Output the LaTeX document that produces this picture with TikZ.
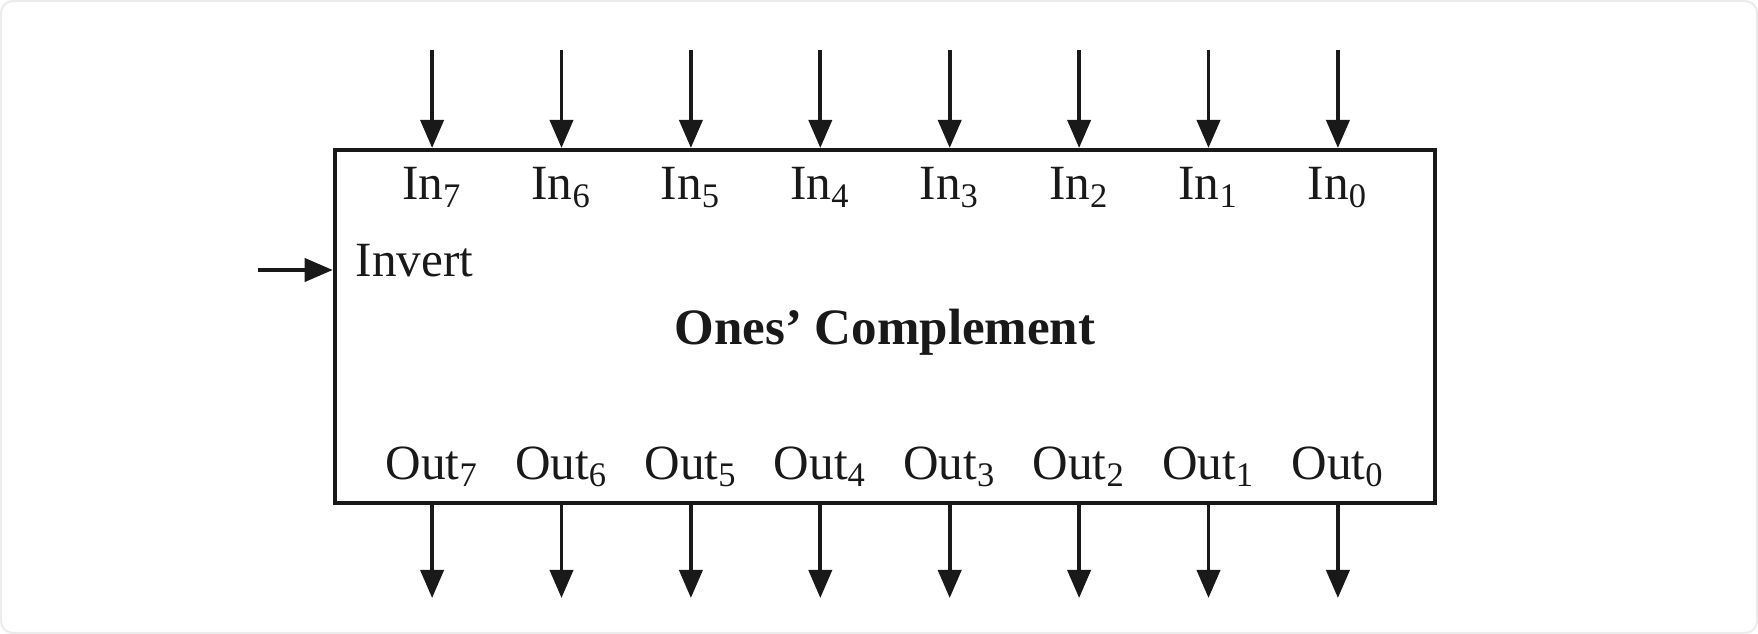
\documentclass[tikz,border=0pt]{standalone}
\usepackage{fontspec}
\setmainfont{Liberation Serif}
\usetikzlibrary{positioning, arrows.meta}

\begin{document}
\begin{tikzpicture}[x=0.01cm, y=-0.01cm,
    wire/.style={line width=1.1pt, draw=black!90, -{Triangle[length=0.28cm, width=0.23cm]}},
    pin/.style={font=\fontsize{14}{16}\selectfont, inner sep=0pt, anchor=base, text=black!90}]
    \useasboundingbox (0,0) rectangle (1758,634);
    \draw [gray!15, line width=0.6pt, rounded corners=3.4pt] (1,1) rectangle (1757,633);
    % The block
    \node (C) [draw=black!90, line width=1.1pt, minimum width=11cm, minimum height=3.53cm, inner sep=0pt] at (885,326.5) {};
    \node (title) [font=\bfseries\fontsize{14.5}{17}\selectfont, anchor=base, text=black!90] at (885,345) {Ones’ Complement};
    % Data inputs and outputs
    \foreach \i in {0,...,7} {
        \coordinate (t\i) at ({885+(3.5-\i)*129.4}, 50);
        \coordinate (b\i) at ({885+(3.5-\i)*129.4}, 598);
        \draw [wire] (t\i) -- (t\i |- C.north);
        \draw [wire] (b\i |- C.south) -- (b\i);
        \node (in\i) [pin] at ({885+(3.5-\i)*129.4}, 200) {In\textsubscript{\i}};
        \node (out\i) [pin] at ({885+(3.5-\i)*129.4}, 479) {Out\textsubscript{\i}};
    }
    % Control input
    \coordinate (inv) at (258,270);
    \draw [wire] (inv) -- (inv -| C.west);
    \node (invert) [pin, anchor=base west] at (355,277) {Invert};
\end{tikzpicture}
\end{document}
